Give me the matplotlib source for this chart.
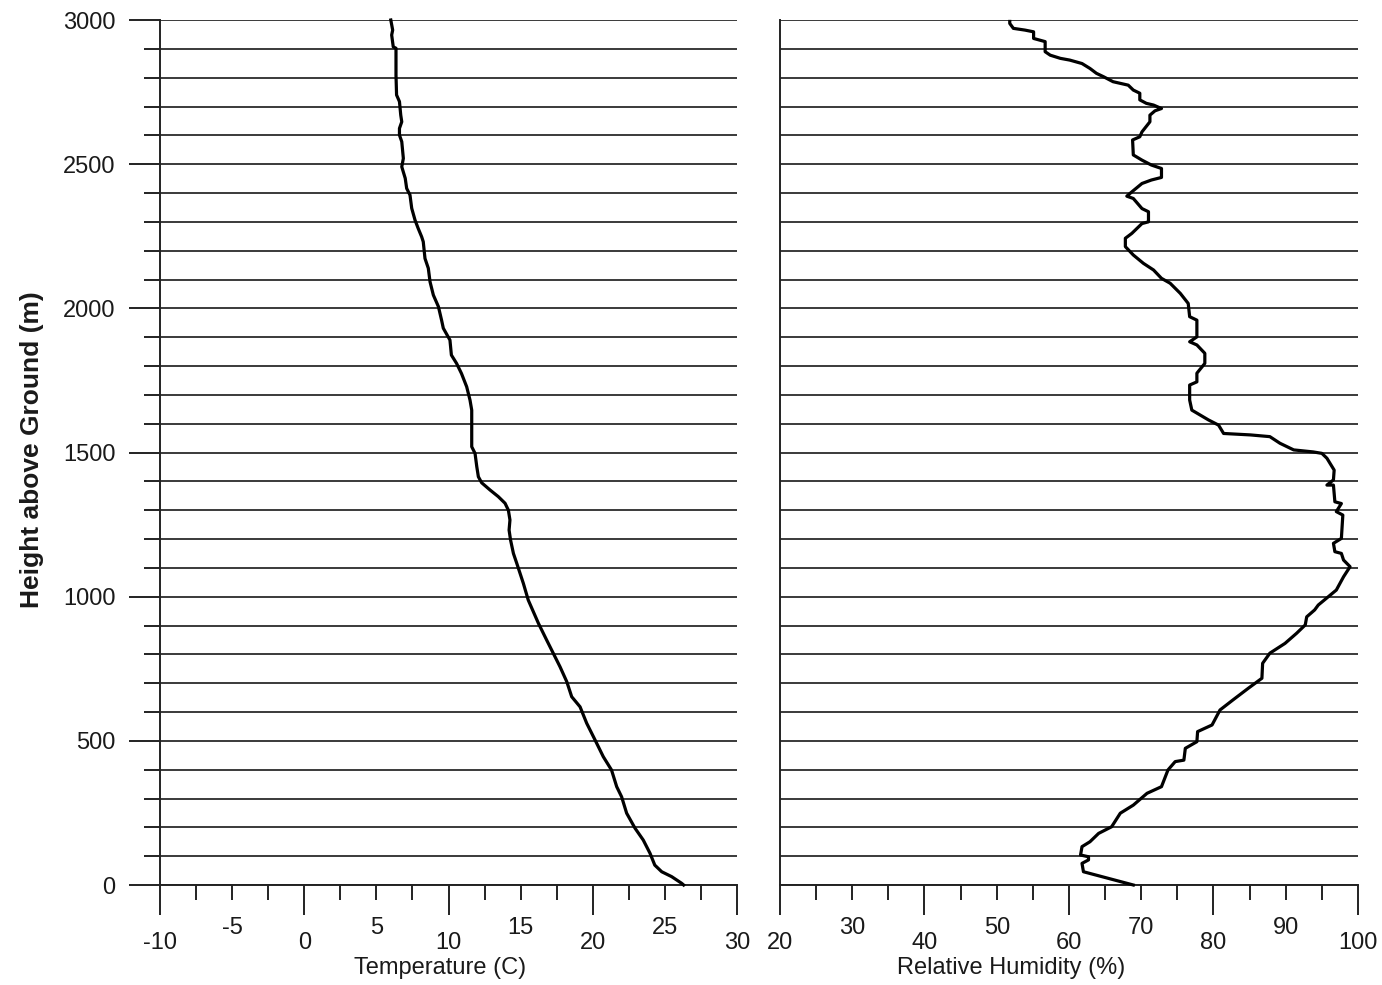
import matplotlib
matplotlib.use("Agg")
import matplotlib.pyplot as plt
from matplotlib.transforms import blended_transform_factory, ScaledTranslation
import numpy as np

plt.rcParams['font.family'] = ['Liberation Sans', 'DejaVu Sans']

# temperature profile (height m, temperature C)
temp_height = [0, 6, 29, 46, 69, 110, 156, 197, 249, 306, 341, 399, 445, 503,
               561, 618, 653, 705, 757, 803, 850, 908, 948, 988, 1046, 1081,
               1116, 1150, 1197, 1231, 1266, 1300, 1324, 1347, 1370, 1395,
               1416, 1451, 1497, 1520, 1647, 1682, 1728, 1774, 1809, 1838,
               1890, 1931, 1959, 2006, 2046, 2092, 2139, 2173, 2231, 2248,
               2277, 2306, 2347, 2393, 2416, 2451, 2491, 2520, 2578, 2601,
               2624, 2647, 2670, 2717, 2740, 2809, 2902, 2907, 2948, 2965, 3000]
temperature = [26.3, 26.16, 25.47, 24.78, 24.3, 23.97, 23.5, 22.93, 22.35, 22.0,
               21.66, 21.3, 20.73, 20.16, 19.58, 19.12, 18.54, 18.2, 17.73,
               17.27, 16.8, 16.23, 15.88, 15.53, 15.19, 14.96, 14.73, 14.5,
               14.3, 14.2, 14.26, 14.15, 13.92, 13.45, 12.88, 12.3, 12.07,
               11.96, 11.84, 11.61, 11.61, 11.49, 11.26, 10.9, 10.56, 10.2,
               10.1, 9.64, 9.52, 9.3, 8.95, 8.72, 8.6, 8.37, 8.25, 8.14, 7.9,
               7.68, 7.45, 7.33, 7.1, 7.0, 6.76, 6.87, 6.76, 6.6, 6.6, 6.76,
               6.69, 6.6, 6.4, 6.36, 6.36, 6.17, 6.06, 6.13, 6.0]

# relative humidity profile (height m, RH %)
rh_height = [0, 46, 75, 87, 98, 104, 133, 150, 179, 202, 249, 277, 318, 341,
             399, 428, 433, 474, 497, 532, 555, 607, 642, 682, 717, 769, 804,
             838, 873, 902, 930, 954, 971, 1000, 1023, 1069, 1104, 1127, 1150,
             1156, 1185, 1202, 1283, 1295, 1323, 1329, 1387, 1387, 1405, 1439,
             1480, 1497, 1502, 1509, 1532, 1555, 1561, 1566, 1595, 1613, 1647,
             1682, 1734, 1745, 1775, 1809, 1844, 1873, 1884, 1901, 1959, 1971,
             2017, 2052, 2087, 2104, 2133, 2156, 2185, 2214, 2243, 2260, 2294,
             2300, 2335, 2346, 2381, 2389, 2404, 2433, 2445, 2454, 2485, 2497,
             2514, 2532, 2584, 2595, 2612, 2647, 2670, 2685, 2693, 2705, 2711,
             2723, 2746, 2757, 2774, 2786, 2803, 2815, 2832, 2849, 2861, 2867,
             2878, 2890, 2925, 2936, 2959, 2965, 2971, 2988, 2995]
rel_humidity = [68.9, 62.0, 61.8, 62.7, 62.7, 61.6, 61.8, 62.9, 64.1, 65.9,
                67.1, 68.9, 70.8, 72.8, 73.7, 74.7, 75.9, 76.1, 77.7, 77.8,
                79.8, 80.9, 82.7, 84.8, 86.7, 86.8, 87.8, 89.9, 91.5, 92.7,
                92.9, 94.0, 94.5, 95.9, 97.0, 98.0, 98.9, 98.0, 97.7, 96.8,
                96.6, 97.7, 97.9, 97.0, 97.7, 96.8, 96.6, 95.7, 96.6, 96.7,
                95.7, 95.0, 93.8, 91.1, 89.2, 87.8, 85.1, 81.4, 80.7, 79.3,
                77.0, 76.7, 76.7, 77.7, 77.7, 78.8, 78.8, 77.7, 76.7, 77.7,
                77.7, 76.7, 76.5, 75.4, 74.0, 72.8, 71.7, 70.3, 68.9, 67.8,
                67.8, 68.7, 70.1, 71.0, 71.0, 70.1, 68.9, 68.0, 68.7, 70.1,
                71.4, 72.8, 72.8, 71.4, 70.1, 68.9, 68.8, 69.8, 70.1, 71.2,
                71.2, 71.9, 72.8, 71.7, 70.7, 69.8, 69.8, 68.9, 68.2, 66.1,
                64.8, 63.8, 62.9, 61.8, 60.1, 58.8, 57.4, 56.7, 56.7, 55.1,
                55.1, 53.9, 52.3, 51.8, 51.8]

height_major = [0, 500, 1000, 1500, 2000, 2500, 3000]
height_minor = list(range(0, 3001, 100))

temp_major = [-10, 0, 10, 20, 30]
temp_minor = list(np.arange(-10, 30.1, 2.5))
temp_raised = [-5, 5, 15, 25]

rh_major = [20, 40, 60, 80, 100]
rh_minor = list(range(20, 101, 5))
rh_raised = [30, 50, 70, 90]

W, H = 1382, 985
fig = plt.figure(figsize=(W / 100, H / 100), dpi=100)
ax1 = fig.add_axes([160 / W, (H - 885) / H, 577 / W, 865 / H])
ax2 = fig.add_axes([780 / W, (H - 885) / H, 578 / W, 865 / H])

txt = '#1a1a1a'
grid_c = '#3a3a3a'
fs = 17


def setup(ax, xlim, major, minor, raised):
    ax.set_xlim(*xlim)
    ax.set_ylim(0, 3000)
    for s in ['top', 'right']:
        ax.spines[s].set_visible(False)
    for s in ['left', 'bottom']:
        ax.spines[s].set_linewidth(1.4)
        ax.spines[s].set_color('#222222')
    ax.set_xticks(major)
    ax.set_xticks(minor, minor=True)
    ax.set_xticklabels([str(v) for v in major])
    ax.tick_params(axis='x', which='major', direction='out', length=21.5,
                   width=1.4, color='#222222', pad=12.5, labelsize=fs,
                   labelcolor=txt)
    ax.tick_params(axis='x', which='minor', direction='out', length=10.5,
                   width=1.4, color='#222222')
    ax.set_yticks(height_major)
    ax.set_yticks(height_minor, minor=True)
    ax.yaxis.grid(True, which='both', color=grid_c, linewidth=1.4)
    ax.set_axisbelow(True)
    tr = blended_transform_factory(ax.transData, ax.transAxes) + \
        ScaledTranslation(0, -32 / 100, fig.dpi_scale_trans)
    for v in raised:
        ax.text(v, 0, str(v), transform=tr, ha='center', va='top',
                fontsize=fs, color=txt)


setup(ax1, (-10, 30), temp_major, temp_minor, temp_raised)
setup(ax2, (20, 100), rh_major, rh_minor, rh_raised)

ax1.set_yticklabels([str(v) for v in height_major])
ax1.tick_params(axis='y', which='major', direction='out', length=22,
                width=1.4, color='#222222', pad=10, labelsize=fs,
                labelcolor=txt)
ax1.tick_params(axis='y', which='minor', direction='out', length=11.5,
                width=1.4, color='#222222')
ax2.tick_params(axis='y', which='both', length=0, labelleft=False)

ax1.plot(temperature, temp_height, color='black', linewidth=2.3,
         clip_on=False, zorder=3)
ax2.plot(rel_humidity, rh_height, color='black', linewidth=2.3,
         clip_on=False, zorder=3)

fig.text(440 / W, 1 - 968 / H, 'Temperature (C)', ha='center', va='center',
         fontsize=fs, color=txt)
fig.text(1011 / W, 1 - 968 / H, 'Relative Humidity (%)', ha='center',
         va='center', fontsize=fs, color=txt)
fig.text(32 / W, 1 - 450 / H, 'Height above Ground (m)', ha='center',
         va='center', rotation=90, fontsize=19, fontweight='bold', color=txt)

fig.savefig('out.png', dpi=100)
